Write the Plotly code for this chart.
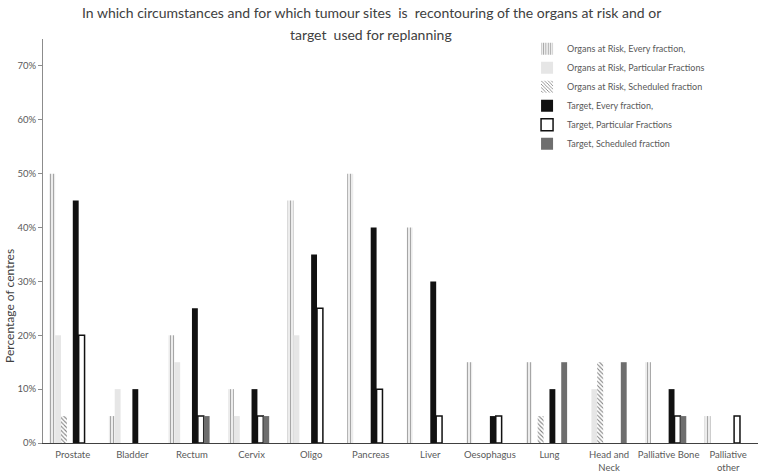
import plotly.graph_objects as go

categories = ["Prostate", "Bladder", "Rectum", "Cervix", "Oligo", "Pancreas", "Liver",
              "Oesophagus", "Lung", "Head and<br>Neck", "Palliative Bone", "Palliative<br>other"]

oar_every = [0.50, 0.05, 0.20, 0.10, 0.45, 0.50, 0.40, 0.15, 0.15, 0.00, 0.15, 0.05]
oar_particular = [0.20, 0.10, 0.15, 0.05, 0.20, 0.00, 0.00, 0.00, 0.00, 0.10, 0.00, 0.00]
oar_scheduled = [0.05, 0.00, 0.00, 0.00, 0.00, 0.00, 0.00, 0.00, 0.05, 0.15, 0.00, 0.00]
target_every = [0.45, 0.10, 0.25, 0.10, 0.35, 0.40, 0.30, 0.05, 0.10, 0.00, 0.10, 0.00]
target_particular = [0.20, 0.00, 0.05, 0.05, 0.25, 0.10, 0.05, 0.05, 0.00, 0.00, 0.05, 0.05]
target_scheduled = [0.00, 0.00, 0.05, 0.05, 0.00, 0.00, 0.00, 0.00, 0.15, 0.15, 0.05, 0.00]

y_ticks = [0, 0.1, 0.2, 0.3, 0.4, 0.5, 0.6, 0.7]

title_line1 = "In which circumstances and for which tumour sites  is  recontouring of the organs at risk and or"
title_line2 = "target  used for replanning"

FONT = "Lato"
TXT = "#595959"


def nz(values):
    # zero values are not drawn as bars (as in the original chart)
    return [v if v else None for v in values]


fig = go.Figure()

fig.add_trace(go.Bar(
    x=categories, y=nz(oar_every), name="Organs at Risk, Every fraction,",
    marker=dict(color="#f2f2f2", line=dict(width=0),
                pattern=dict(shape="|", fgcolor="#a6a6a6", bgcolor="#f4f4f4", size=3, solidity=0.4,
                             fillmode="replace"))))
fig.add_trace(go.Bar(
    x=categories, y=nz(oar_particular), name="Organs at Risk, Particular Fractions",
    marker=dict(color="#e6e6e6", line=dict(width=0))))
fig.add_trace(go.Bar(
    x=categories, y=nz(oar_scheduled), name="Organs at Risk, Scheduled fraction",
    marker=dict(color="#ffffff", line=dict(width=0),
                pattern=dict(shape="\\", fgcolor="#7f7f7f", bgcolor="#ffffff", size=3, solidity=0.35,
                             fillmode="replace"))))
fig.add_trace(go.Bar(x=categories, y=[None] * len(categories), showlegend=False, hoverinfo="skip"))
fig.add_trace(go.Bar(
    x=categories, y=nz(target_every), name="Target, Every fraction,",
    marker=dict(color="#111111", line=dict(width=0))))
fig.add_trace(go.Bar(
    x=categories, y=nz(target_particular), name="Target, Particular Fractions",
    marker=dict(color="#ffffff", line=dict(color="#111111", width=1.5))))
fig.add_trace(go.Bar(
    x=categories, y=nz(target_scheduled), name="Target, Scheduled fraction",
    marker=dict(color="#6e6e6e", line=dict(width=0))))
fig.add_trace(go.Bar(x=categories, y=[None] * len(categories), showlegend=False, hoverinfo="skip"))

fig.update_layout(
    width=761, height=472,
    barmode="group", bargap=0.21, bargroupgap=0,
    plot_bgcolor="white", paper_bgcolor="white",
    margin=dict(l=43, r=3, t=39, b=29),
    font=dict(family=FONT, color=TXT, size=9),
    showlegend=True,
    legend=dict(x=0.677, y=1.012, xanchor="left", yanchor="top", xref="paper", yref="paper",
                bgcolor="rgba(0,0,0,0)", font=dict(size=9, color=TXT), traceorder="normal",
                itemwidth=30),
    xaxis=dict(showline=True, linecolor="#404040", linewidth=1, ticks="", showgrid=False,
               tickfont=dict(size=9.5, color=TXT), automargin=False, ticklabelstandoff=3),
    yaxis=dict(range=[0, 0.75], tickvals=y_ticks, tickformat=".0%", showline=True,
               linecolor="#8c8c8c", linewidth=1, ticks="outside", ticklen=4, tickcolor="#8c8c8c",
               showgrid=False, zeroline=False, tickfont=dict(size=9.5, color=TXT), automargin=False),
    annotations=[
        dict(text="Percentage of centres", xref="paper", yref="paper", x=-0.05, y=0.34, xshift=2,
             textangle=-90, showarrow=False, xanchor="center", yanchor="middle",
             font=dict(size=12, color="#404040", family=FONT)),
        dict(text=title_line1, xref="paper", yref="paper", x=(371 - 43) / 715, y=1, yshift=27,
             showarrow=False, xanchor="center", yanchor="middle",
             font=dict(size=14, color="#404040", family=FONT)),
        dict(text=title_line2, xref="paper", yref="paper", x=(371 - 43) / 715, y=1, yshift=5,
             showarrow=False, xanchor="center", yanchor="middle",
             font=dict(size=14, color="#404040", family=FONT)),
    ],
)

fig.write_html("out.html", config={"displayModeBar": False},
               post_script="document.body.style.margin='0';")
